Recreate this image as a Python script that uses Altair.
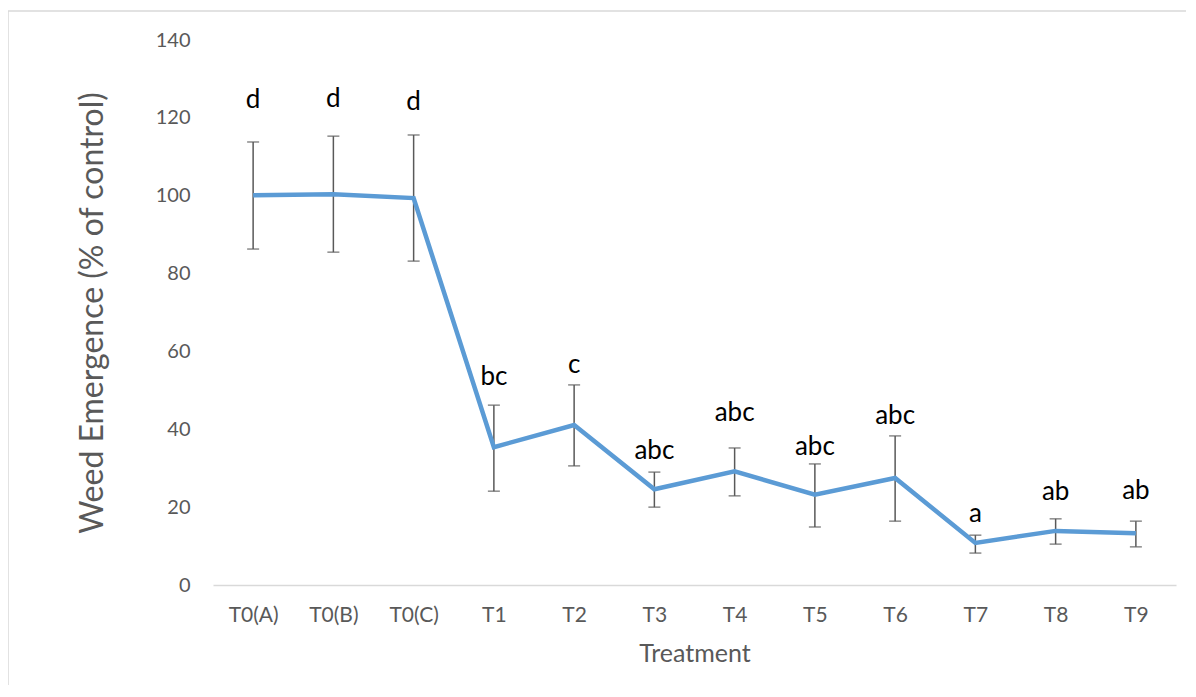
import altair as alt
import pandas as pd

treatments = ["T0(A)", "T0(B)", "T0(C)", "T1", "T2", "T3", "T4", "T5", "T6", "T7", "T8", "T9"]
means = [100.1, 100.4, 99.4, 35.4, 41.1, 24.6, 29.2, 23.2, 27.5, 10.8, 13.9, 13.3]
upper = [113.8, 115.3, 115.6, 46.2, 51.4, 29.0, 35.2, 31.1, 38.3, 12.8, 17.0, 16.4]
lower = [86.3, 85.5, 83.2, 24.1, 30.6, 20.0, 22.9, 14.9, 16.4, 8.2, 10.5, 9.8]
letters = ["d", "d", "d", "bc", "c", "abc", "abc", "abc", "abc", "a", "ab", "ab"]
letter_y = [124.6, 124.8, 124.2, 53.4, 56.5, 34.4, 44.2, 35.4, 43.4, 18.2, 23.9, 24.1]

df = pd.DataFrame({
    "Treatment": treatments,
    "mean": means,
    "upper": upper,
    "lower": lower,
    "letter": letters,
    "ly": letter_y,
})

FONT = "Lato"
GREY = "#595959"
W, H = 963, 545

xenc = alt.X(
    "Treatment:O",
    sort=treatments,
    scale=alt.Scale(type="point", padding=0.5),
    axis=alt.Axis(
        title="Treatment", labelAngle=0, labelAlign="center", ticks=False,
        domainColor="#D9D9D9", domainWidth=1.5, labelColor=GREY, labelFontSize=21,
        labelFont=FONT, labelPadding=30, titleColor=GREY, titleFontSize=25,
        titleFont=FONT, titleFontWeight="normal", titlePadding=16, grid=False,
    ),
)
yscale = alt.Scale(domain=[0, 140])
yenc = alt.Y(
    "mean:Q", scale=yscale,
    axis=alt.Axis(
        title="Weed Emergence (% of control)", values=list(range(0, 141, 20)),
        grid=False, domain=False, ticks=False, labelColor=GREY, labelFontSize=20,
        labelFont=FONT, labelPadding=23, titleColor=GREY, titleFontSize=32,
        titleFont=FONT, titleFontWeight="normal", titlePadding=46,
    ),
)

base = alt.Chart(df)

border = base.mark_rect(fill=None, stroke="#D9D9D9", strokeWidth=1.5).encode(
    x=alt.value(-205), x2=alt.value(W + 200), y=alt.value(-29), y2=alt.value(H + 300)
).transform_filter(alt.datum.Treatment == "T0(A)")

line = base.mark_line(color="#5B9BD5", strokeWidth=4.5).encode(x=xenc, y=yenc)

rules = base.mark_rule(color=GREY, strokeWidth=1.5).encode(
    x=alt.X("Treatment:O", sort=treatments),
    y=alt.Y("lower:Q", scale=yscale),
    y2="upper:Q",
)
cap_top = base.mark_tick(color=GREY, thickness=1.5, size=12).encode(
    x=alt.X("Treatment:O", sort=treatments), y=alt.Y("upper:Q", scale=yscale)
)
cap_bot = base.mark_tick(color=GREY, thickness=1.5, size=12).encode(
    x=alt.X("Treatment:O", sort=treatments), y=alt.Y("lower:Q", scale=yscale)
)
labels = base.mark_text(font=FONT, fontSize=26, color="black", baseline="middle").encode(
    x=alt.X("Treatment:O", sort=treatments), y=alt.Y("ly:Q", scale=yscale), text="letter:N"
)

chart = alt.layer(border, rules, line, cap_top, cap_bot, labels).properties(
    width=W, height=H,
    background="white",
    autosize=alt.AutoSizeParams(type="none"),
    padding={"left": 205, "top": 32, "right": 10, "bottom": 100},
).configure_view(strokeWidth=0)

chart.save("out.html", embed_options={"renderer": "svg", "actions": False})
